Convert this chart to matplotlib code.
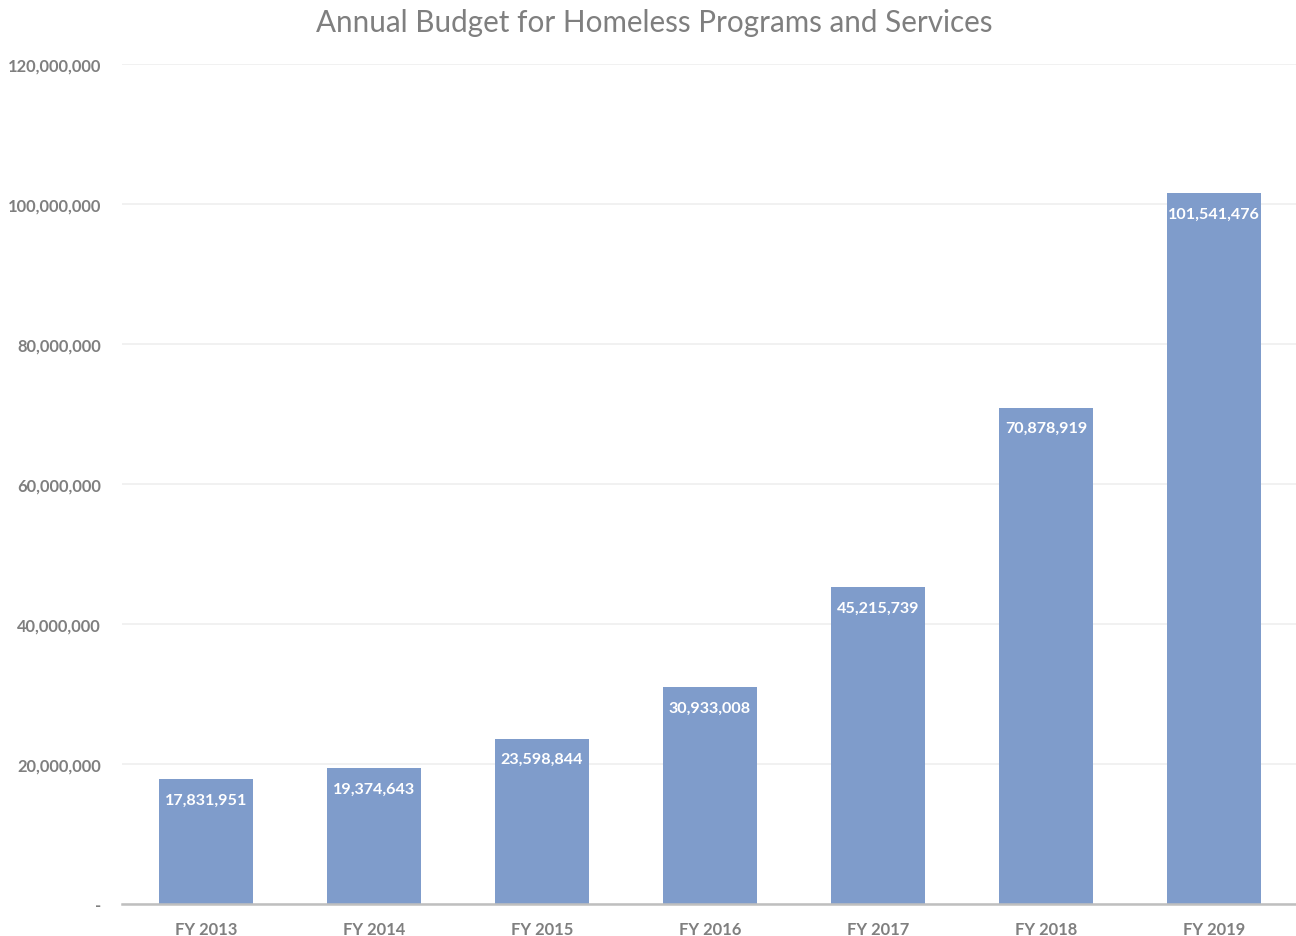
import matplotlib
matplotlib.use("Agg")
import matplotlib.pyplot as plt
from matplotlib.ticker import FuncFormatter

categories = ["FY 2013", "FY 2014", "FY 2015", "FY 2016", "FY 2017", "FY 2018", "FY 2019"]
budget = [17831951, 19374643, 23598844, 30933008, 45215739, 70878919, 101541476]
yticks = [0, 20000000, 40000000, 60000000, 80000000, 100000000, 120000000]

plt.rcParams['font.family'] = ['Lato', 'DejaVu Sans']

fig = plt.figure(figsize=(12.96, 9.37), dpi=100)
left_px, right_px = 122, 1298
ax = fig.add_axes([left_px/1296, 1 - 905/937, (right_px - left_px)/1296, (905 - 65)/937])

x = list(range(len(categories)))
bars = ax.bar(x, budget, width=0.56, color="#7f9ccb", zorder=3)

for xi, v in zip(x, budget):
    ax.annotate(f"{v:,}", xy=(xi, v), xytext=(0, -14.5), textcoords="offset points",
                ha="center", va="center", color="white", fontsize=11.6, fontweight="bold", zorder=4)

ax.set_xlim(-0.5, 6.5)
ax.set_ylim(0, 120000000)
ax.set_yticks(yticks)
ax.yaxis.set_major_formatter(FuncFormatter(lambda v, p: "-" if v == 0 else f"{int(v):,}"))
ax.set_xticks(x)
ax.set_xticklabels(categories)

ax.grid(axis="y", color="#efefef", linewidth=1.2, zorder=0)
for s in ["top", "right", "left"]:
    ax.spines[s].set_visible(False)
ax.spines["bottom"].set_color("#bfbfbf")
ax.spines["bottom"].set_linewidth(1.8)
ax.spines["bottom"].set_zorder(5)

ax.tick_params(axis="y", length=0, pad=15, labelsize=11.9, labelcolor="#7f7f7f")
ax.tick_params(axis="x", length=0, pad=12, labelsize=11.9, labelcolor="#7f7f7f")
for lbl in ax.get_xticklabels() + ax.get_yticklabels():
    lbl.set_fontweight("bold")

fig.text(654/1296, 1 - 23/937, "Annual Budget for Homeless Programs and Services",
         ha="center", va="center", fontsize=21.3, color="#7f7f7f")

fig.savefig("out.png", dpi=100)
